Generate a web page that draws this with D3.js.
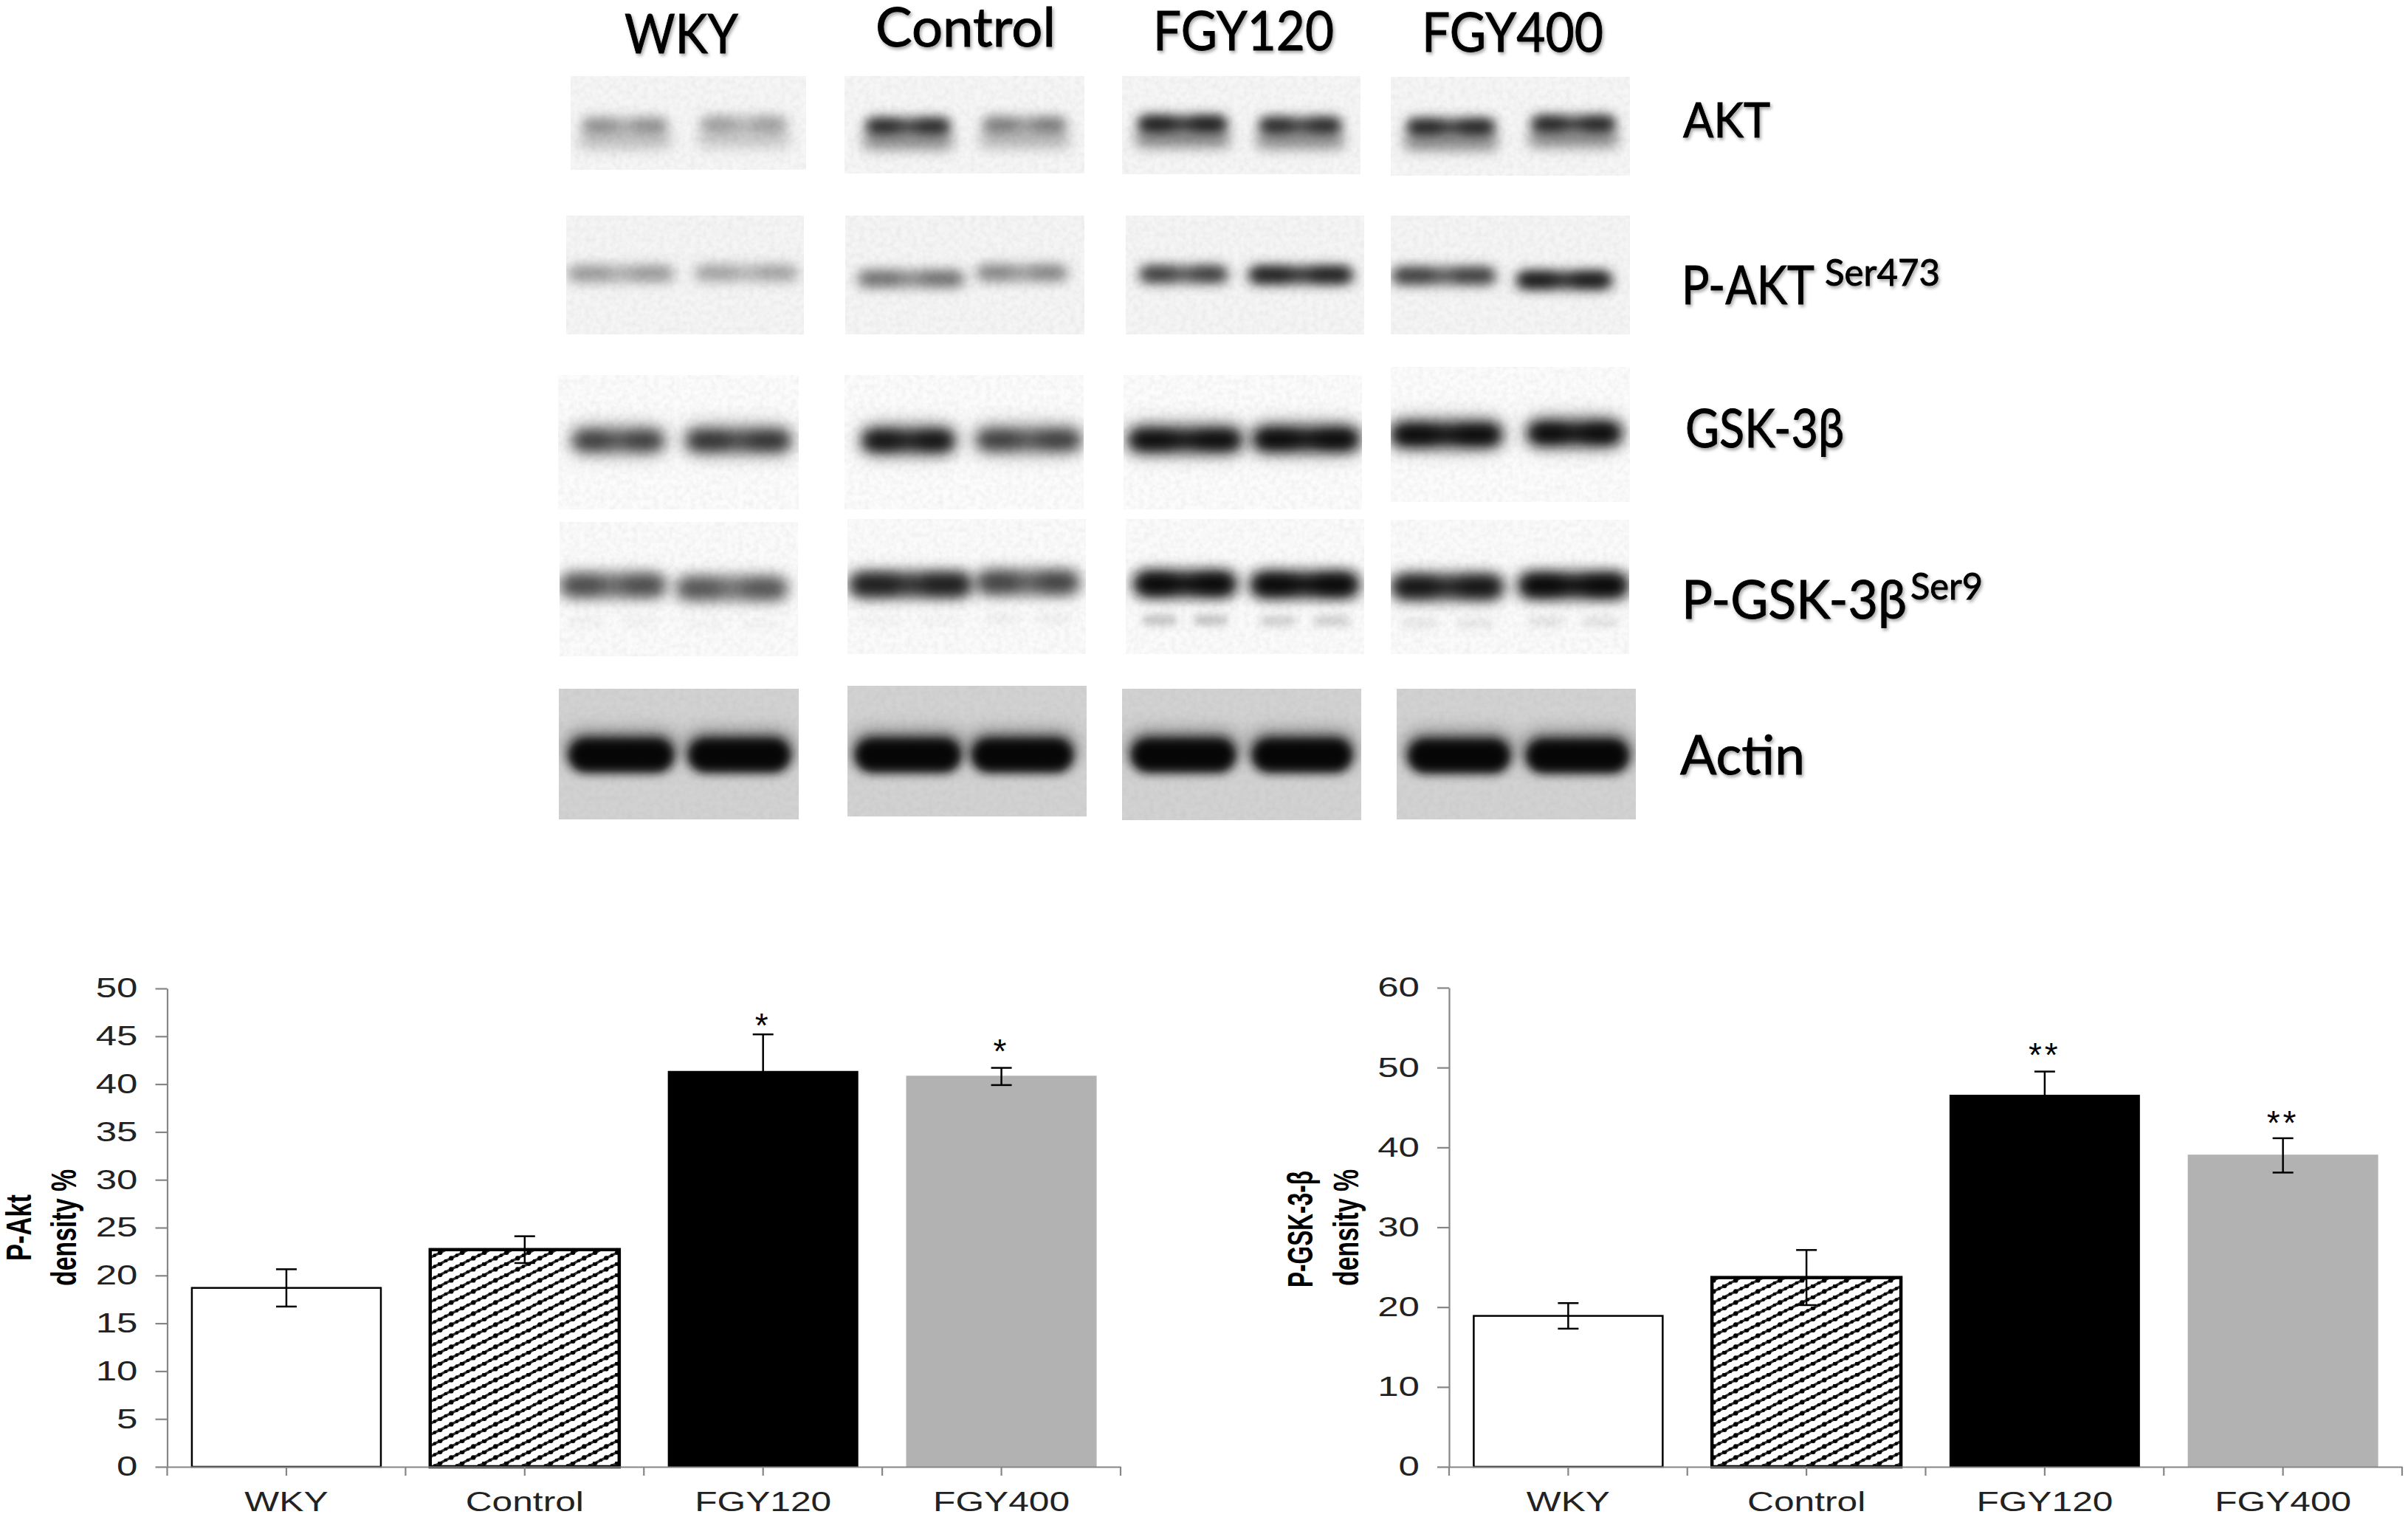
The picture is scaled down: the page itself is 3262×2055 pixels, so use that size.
<!DOCTYPE html>
<html><head><meta charset="utf-8">
<script src="https://cdn.jsdelivr.net/npm/d3@7"></script>
<style>html,body{margin:0;background:#fff}svg{display:block}</style></head>
<body><div id="c"></div>
<script>
// ---------- chart data ----------
const categories = ["WKY","Control","FGY120","FGY400"];
const pAktValues = [18.7,22.7,41.3,40.8];
const pAktErrors = [1.95,1.4,3.9,0.9];
const pAktStars  = ["","","*","*"];
const pAktStarAt = [null,null,46.8,44.1];
const pAktTicks  = [0,5,10,15,20,25,30,35,40,45,50];
const pGskValues = [18.9,23.7,46.5,39.0];
const pGskErrors = [1.6,3.45,3.0,2.15];
const pGskStars  = ["","","**","**"];
const pGskStarAt = [null,null,52.4,43.9];
const pGskTicks  = [0,10,20,30,40,50,60];
// blot band darkness per lane (group x lane)
const blotNames = ["AKT","P-AKT","GSK-3β","P-GSK-3β","Actin"];
const aktDark  = [[.42,.36],[.85,.5],[.92,.85],[.88,.88]];
const pAktDark = [[.34,.3],[.5,.42],[.72,.88],[.72,.92]];
const gskDark  = [[.66,.72],[.92,.66],[.97,1],[1,1]];
const pGskDark = [[.62,.58],[.85,.66],[1,1],[.9,1]];
const actinDark= [[1,1],[1,1],[1,1],[1,1]];
const pGskLower= [[.03,.02],[.02,.04],[.26,.2],[.08,.1]];

// ---------- layout (blot picture geometry, not values) ----------
const W=3262,H=2055;
const panelBoxes=[
 [[773,103,1092,230],[1144,103,1469,235],[1520,103,1843,236],[1884,104,2208,238]],
 [[767,292,1089,453],[1145,292,1469,453],[1525,292,1848,453],[1884,292,2208,453]],
 [[756,508,1082,690],[1144,508,1468,690],[1522,508,1845,690],[1884,497,2208,680]],
 [[758,707,1081,889],[1148,703,1471,886],[1525,703,1848,886],[1884,704,2207,886]],
 [[757,933,1082,1110],[1148,929,1472,1106],[1520,933,1844,1111],[1892,933,2216,1110]]];
const panelBg=["#f6f6f6","#f5f5f5","#fcfcfc","#fbfbfb","#d2d2d2"];
const laneBoxes=[
 [[[787,906,170],[948,1067,168]],[[1172,1288,171],[1330,1446,169]],[[1541,1663,168],[1705,1818,170]],[[1905,2026,172],[2074,2189,168]]],
 [[[769,913,370],[941,1081,369]],[[1162,1306,377],[1323,1446,369]],[[1544,1663,371],[1692,1832,372]],[[1886,2026,373],[2055,2183,379]]],
 [[[776,899,597],[930,1071,597]],[[1169,1292,597],[1323,1464,596]],[[1530,1681,596],[1699,1840,595]],[[1886,2033,589],[2071,2195,587]]],
 [[[759,902,793],[916,1067,797]],[[1151,1316,792],[1323,1462,789]],[[1537,1674,791],[1695,1840,792]],[[1886,2036,795],[2058,2205,793]]],
 [[[770,913,1023],[932,1071,1023]],[[1158,1302,1023],[1316,1454,1023]],[[1532,1674,1023],[1696,1832,1023]],[[1907,2046,1024],[2067,2207,1024]]]];
const bandH=[22,22,26,32,46], bandBlur=[8,8,9,9,7];
const smear=[{dy:21,h:20,blur:9,k:.55},{dy:4,h:18,blur:9,k:.25},{dy:-1,h:40,blur:13,k:.5},{dy:0,h:34,blur:11,k:.3},{dy:-10,h:44,blur:12,k:.45}];
const darks=[aktDark,pAktDark,gskDark,pGskDark,actinDark];

const svg=d3.select("#c").append("svg").attr("width",W).attr("height",H).attr("viewBox",`0 0 ${W} ${H}`);
svg.append("rect").attr("width",W).attr("height",H).attr("fill","#fff");
const defs=svg.append("defs");

// hatch pattern: chain of dots along shallow diagonals
const pat=defs.append("pattern").attr("id","hatch").attr("patternUnits","userSpaceOnUse")
 .attr("width",30).attr("height",15);
pat.append("rect").attr("width",30).attr("height",15).attr("fill","#fff");
[[0,15,30,0],[-4,2,4,-2],[26,17,34,13]].forEach(l=>{
  pat.append("line").attr("x1",l[0]).attr("y1",l[1]).attr("x2",l[2]).attr("y2",l[3]).attr("stroke","#333").attr("stroke-width",3.4);
});
[[3.75,2.3],[11.25,3.2],[18.75,2.3],[26.25,3.2]].forEach(p=>pat.append("circle").attr("cx",p[0]).attr("cy",15-p[0]/2).attr("r",p[1]).attr("fill","#000"));

// blur filters and paper grain
[6,7,8,9,11,12,13].forEach(s=>{
  defs.append("filter").attr("id","b"+s).attr("x","-30%").attr("y","-300%").attr("width","160%").attr("height","700%")
   .append("feGaussianBlur").attr("stdDeviation",s);
});
const grain=defs.append("filter").attr("id","grain").attr("x",0).attr("y",0).attr("width","100%").attr("height","100%");
grain.append("feTurbulence").attr("type","fractalNoise").attr("baseFrequency",.14).attr("numOctaves",2).attr("seed",4);
grain.append("feColorMatrix").attr("values","0 0 0 0 0.4  0 0 0 0 0.4  0 0 0 0 0.4  1.6 0 0 0 -0.55");
grain.append("feComposite").attr("in2","SourceGraphic").attr("operator","in");

const gray=d=>{const v=Math.round(252-Math.min(d,1)*242);return `rgb(${v},${v},${v})`;};
const blotG=svg.append("g");
panelBoxes.forEach((row,r)=>row.forEach((box,g)=>{
  const id=`cp${r}_${g}`;
  defs.append("clipPath").attr("id",id).append("rect").attr("x",box[0]).attr("y",box[1]).attr("width",box[2]-box[0]).attr("height",box[3]-box[1]);
  const pg=blotG.append("g").attr("clip-path",`url(#${id})`);
  pg.append("rect").attr("x",box[0]).attr("y",box[1]).attr("width",box[2]-box[0]).attr("height",box[3]-box[1]).attr("fill",panelBg[r]);
  pg.append("rect").attr("x",box[0]).attr("y",box[1]).attr("width",box[2]-box[0]).attr("height",box[3]-box[1])
    .attr("fill","#000").attr("filter","url(#grain)").attr("opacity",r==4?.2:.16);
  laneBoxes[r][g].forEach((lane,l)=>{
    const [x0,x1,yc]=lane, d=darks[r][g][l], h=bandH[r], w=x1-x0;
    const add=(x,y,wd,ht,dk,b)=>pg.append("rect").attr("x",x).attr("y",y-ht/2).attr("width",wd).attr("height",ht)
      .attr("rx",ht/2).attr("fill",gray(dk)).attr("filter",`url(#b${b})`).style("mix-blend-mode","multiply");
    const s=smear[r];
    add(x0-4,yc+s.dy,w+8,s.h,d*s.k,s.blur);
    add(x0,yc,w,h,d*(.55+.4*d),bandBlur[r]);
    if(r<4){ // darker lobes at the lane ends
      add(x0+w*.04,yc,w*.36,h*.8,d*(.3+.3*d),bandBlur[r]);
      add(x0+w*.6,yc,w*.36,h*.8,d*(.3+.3*d),bandBlur[r]);
    } else {
      add(x0+6,yc+2,w-12,h*.75,.55,7);
    }
    if(r==3){ // faint lower band
      const lo=pGskLower[g][l];
      add(x0+w*.08,yc+49,w*.34,12,lo,6);
      add(x0+w*.58,yc+49,w*.34,12,lo,6);
    }
  });
}));

// blot captions
const capFont='Lato,"Open Sans",sans-serif';
const cap=(t,x0,x1,base,fs)=>svg.append("text").attr("x",x0).attr("y",base).text(t)
  .attr("textLength",x1-x0).attr("lengthAdjust","spacingAndGlyphs")
  .attr("font-family",capFont).attr("font-size",fs).attr("fill","#000")
  .attr("stroke","#000").attr("stroke-width",.9)
  .style("filter","drop-shadow(2px 3px 2px rgba(0,0,0,.35))");
const headX=[[846,1000,72],[1186,1430,63],[1562,1807,68],[1926,2172,70]];
categories.forEach((c,i)=>cap(c,headX[i][0],headX[i][1],headX[i][2],73));
cap(blotNames[0],2280,2398,186,65);
cap(blotNames[1],2278,2458,412,72); cap("Ser473",2472,2628,387,50);
cap(blotNames[2],2283,2498,606,72);
cap(blotNames[3],2278,2583,838,72); cap("Ser9",2588,2686,812,50);
cap(blotNames[4],2276,2445,1049,73);

// bar charts
const tickFont='"Liberation Sans",Arial,sans-serif', axisCol="#868686";
function chart(o){
  const x=d3.scaleBand().domain(categories).range([o.x0,o.x1]).paddingInner(.207).paddingOuter(.1035);
  const y=d3.scaleLinear().domain([0,o.max]).range([o.y0,o.y1]);
  const g=svg.append("g");
  const fills=["#fff","url(#hatch)","#000","#b2b2b2"], strokes=["#000","#000","#000","#b2b2b2"], sw=[2.5,4.5,2,2];
  g.selectAll("rect.bar").data(o.values).join("rect").attr("class","bar")
    .attr("x",(d,i)=>x(categories[i])).attr("y",d=>y(d)).attr("width",x.bandwidth()).attr("height",d=>y(0)-y(d))
    .attr("fill",(d,i)=>fills[i]).attr("stroke",(d,i)=>strokes[i]).attr("stroke-width",(d,i)=>sw[i]);
  // axes
  const ay=g.append("g").attr("transform",`translate(${o.x0},0)`)
    .call(d3.axisLeft(y).tickValues(o.ticks).tickSize(16).tickSizeOuter(0).tickPadding(24));
  const ax=g.append("g").attr("transform",`translate(0,${o.y0})`)
    .call(d3.axisBottom(x).tickSize(12).tickSizeOuter(0).tickPadding(0));
  const edges=d3.range(categories.length+1).map(i=>o.x0+i*x.step());
  ax.selectAll("line.edge").data(edges).join("line").attr("class","edge").attr("x1",d=>d).attr("x2",d=>d).attr("y1",0).attr("y2",12);
  [ay,ax].forEach(a=>{
    a.selectAll("path").attr("stroke",axisCol).attr("stroke-width",2.2);
    a.selectAll("line").attr("stroke",axisCol).attr("stroke-width",2.2);
  });
  ay.selectAll("text").attr("font-family",tickFont).attr("font-size",37).attr("fill","#222").each(function(){
    this.setAttribute("lengthAdjust","spacingAndGlyphs");
    this.setAttribute("textLength",this.getComputedTextLength()*1.38);
  });
  ax.selectAll("text").attr("font-family",tickFont).attr("font-size",36).attr("fill","#222").attr("dy",0).attr("y",60).each(function(){
    this.setAttribute("lengthAdjust","spacingAndGlyphs");
    this.setAttribute("textLength",this.getComputedTextLength()*1.38);
  });
  // error bars
  const cx=i=>x(categories[i])+x.bandwidth()/2;
  const e=g.append("g").attr("stroke","#000").attr("stroke-width",2.5);
  o.values.forEach((v,i)=>{
    const lo=y(v-o.errors[i]), hi=y(v+o.errors[i]);
    e.append("line").attr("x1",cx(i)).attr("x2",cx(i)).attr("y1",lo).attr("y2",hi);
    e.append("line").attr("x1",cx(i)-14).attr("x2",cx(i)+14).attr("y1",lo).attr("y2",lo);
    e.append("line").attr("x1",cx(i)-14).attr("x2",cx(i)+14).attr("y1",hi).attr("y2",hi);
  });
  // significance marks
  o.stars.forEach((s,i)=>{ if(!s) return;
    g.append("text").attr("x",cx(i)).attr("y",y(o.starAt[i])).attr("dy",25).attr("text-anchor","middle")
     .attr("font-family",tickFont).attr("font-size",46).attr("letter-spacing",4).attr("fill","#000").text(s);
  });
  // y titles
  o.titles.forEach(t=>{
    g.append("text").attr("transform",`translate(${t.x},${t.y}) rotate(-90)`).attr("text-anchor","middle")
     .attr("font-family",tickFont).attr("font-weight",700).attr("font-size",48).attr("fill","#000")
     .attr("textLength",t.len).attr("lengthAdjust","spacingAndGlyphs").text(t.text);
  });
}
chart({x0:226.5,x1:1518,y0:1987,y1:1339,max:50,values:pAktValues,errors:pAktErrors,ticks:pAktTicks,stars:pAktStars,starAt:pAktStarAt,
  titles:[{text:"P-Akt",x:42,y:1663,len:90},{text:"density %",x:103,y:1663,len:158}]});
chart({x0:1963,x1:3254,y0:1987,y1:1338,max:60,values:pGskValues,errors:pGskErrors,ticks:pGskTicks,stars:pGskStars,starAt:pGskStarAt,
  titles:[{text:"P-GSK-3-β",x:1778,y:1665,len:158},{text:"density %",x:1840,y:1663,len:158}]});
</script></body></html>
